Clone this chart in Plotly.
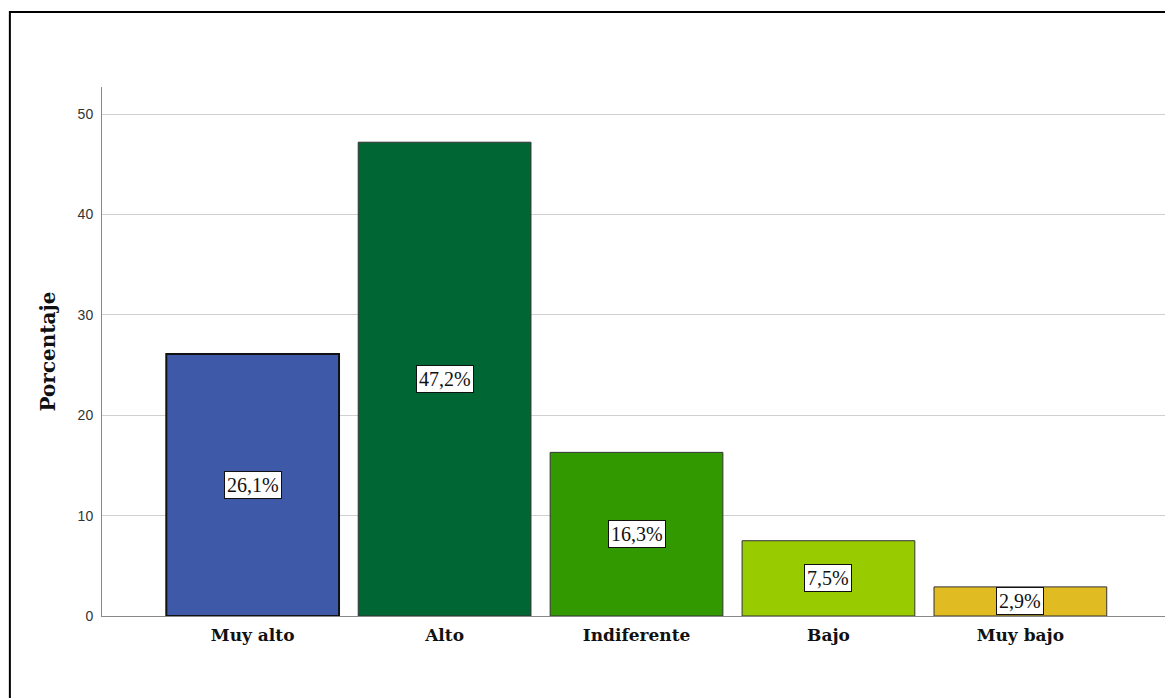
import plotly.graph_objects as go

categories = ["Muy alto", "Alto", "Indiferente", "Bajo", "Muy bajo"]
values = [26.1, 47.2, 16.3, 7.5, 2.9]
labels = ["26,1%", "47,2%", "16,3%", "7,5%", "2,9%"]
colors = ["#3E59A8", "#006633", "#339900", "#99CC00", "#E0BB22"]
line_widths = [2, 1, 1, 1, 1]
line_colors = ["#111111", "#333333", "#333333", "#333333", "#333333"]
y_ticks = [0, 10, 20, 30, 40, 50]

fig = go.Figure()
fig.add_trace(go.Bar(
    x=categories, y=values, width=0.9,
    marker=dict(color=colors, line=dict(width=line_widths, color=line_colors)),
    hoverinfo="skip",
))

for c, v, t in zip(categories, values, labels):
    fig.add_annotation(
        x=c, y=v / 2, text=t, showarrow=False,
        font=dict(family="Liberation Serif", size=20, color="#111"),
        bgcolor="white", bordercolor="#111", borderwidth=1, borderpad=2,
    )

fig.add_annotation(
    xref="paper", yref="paper", x=0, y=0.5, xshift=-55,
    xanchor="center", yanchor="middle",
    text="<b>Porcentaje</b>", textangle=-90, showarrow=False,
    font=dict(family="DejaVu Serif", size=20, color="#111"),
)

fig.add_shape(
    type="rect", xref="paper", yref="paper",
    x0=-0.0861, x1=1.1, y0=-0.4, y1=1.1418,
    line=dict(color="black", width=2), fillcolor="rgba(0,0,0,0)",
)

fig.update_layout(
    width=1173, height=698,
    margin=dict(l=94, r=9, t=79, b=90),
    plot_bgcolor="white", paper_bgcolor="white",
    showlegend=False, bargap=0.1,
    xaxis=dict(
        range=[-0.785, 4.79], showgrid=False, showline=True,
        linecolor="#888", linewidth=1,
        tickfont=dict(family="DejaVu Serif", size=17, color="#111", weight="bold"),
        ticks="", ticklabelstandoff=4,
    ),
    yaxis=dict(
        range=[0, 52.7], tickvals=y_ticks, showgrid=True,
        gridcolor="#d0d0d0", gridwidth=1, zeroline=False,
        showline=True, linecolor="#888", linewidth=1,
        tickfont=dict(family="Liberation Sans", size=14, color="#333"),
        ticks="", ticklabelstandoff=5,
    ),
)

fig.write_html("out.html")
